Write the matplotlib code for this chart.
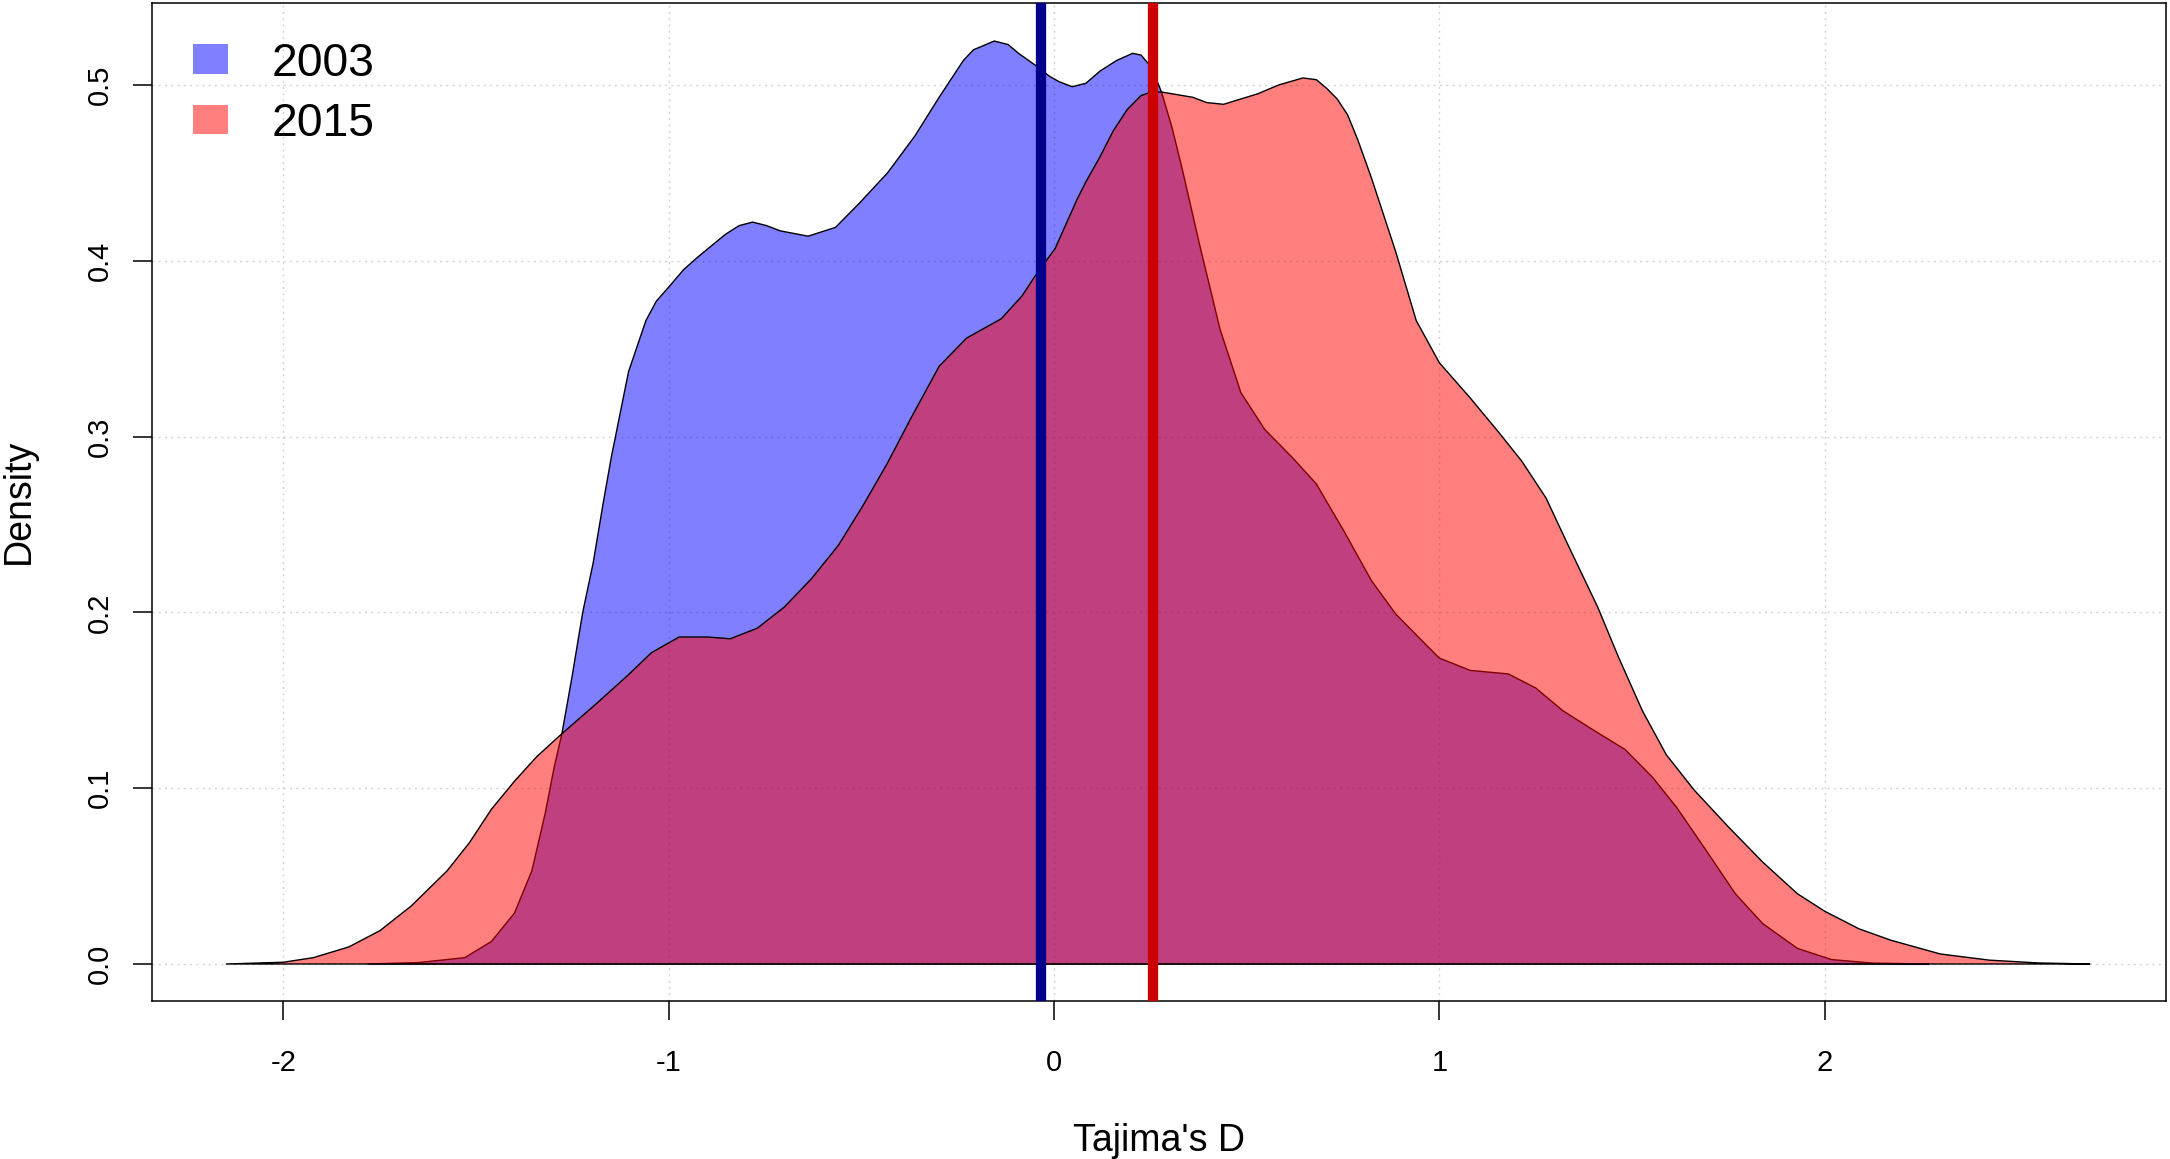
import matplotlib
matplotlib.use("Agg")
import matplotlib.pyplot as plt
from matplotlib.patches import Patch

plt.rcParams['font.family'] = ['Liberation Sans', 'DejaVu Sans']

# ---- data (density estimates of Tajima's D) ----
x_2003 = [-1.78, -1.65, -1.529, -1.46, -1.40, -1.355, -1.32, -1.297, -1.277, -1.251,
          -1.223, -1.196, -1.17, -1.149, -1.104, -1.059, -1.032, -1.0, -0.961, -0.925,
          -0.853, -0.817, -0.782, -0.746, -0.710, -0.638, -0.567, -0.504, -0.432, -0.361,
          -0.298, -0.235, -0.209, -0.155, -0.119, -0.092, -0.047, -0.012, 0.012, 0.047,
          0.083, 0.12, 0.163, 0.204, 0.226, 0.253, 0.279, 0.306, 0.333, 0.378,
          0.431, 0.485, 0.547, 0.619, 0.681, 0.753, 0.824, 0.887, 0.95, 1.0,
          1.08, 1.179, 1.25, 1.321, 1.393, 1.482, 1.554, 1.616, 1.688, 1.768,
          1.839, 1.929, 2.018, 2.125, 2.27]
y_2003 = [0.0, 0.0008, 0.0036, 0.0128, 0.029, 0.053, 0.086, 0.112, 0.131, 0.163,
          0.200, 0.228, 0.262, 0.288, 0.337, 0.366, 0.377, 0.385, 0.395, 0.402,
          0.415, 0.420, 0.422, 0.420, 0.417, 0.414, 0.419, 0.433, 0.450, 0.471,
          0.493, 0.514, 0.520, 0.525, 0.523, 0.518, 0.511, 0.505, 0.502, 0.499,
          0.501, 0.508, 0.514, 0.518, 0.517, 0.510, 0.496, 0.476, 0.452, 0.409,
          0.361, 0.325, 0.304, 0.288, 0.273, 0.246, 0.218, 0.199, 0.185, 0.174,
          0.167, 0.165, 0.157, 0.144, 0.134, 0.122, 0.106, 0.089, 0.066, 0.040,
          0.023, 0.0089, 0.0025, 0.0005, 0.0]

x_2015 = [-2.148, -2.0, -1.922, -1.83, -1.749, -1.668, -1.575, -1.517, -1.46, -1.40,
          -1.342, -1.277, -1.188, -1.107, -1.045, -0.973, -0.90, -0.84, -0.77, -0.70,
          -0.63, -0.56, -0.495, -0.432, -0.370, -0.298, -0.227, -0.137, -0.083, -0.047,
          0.003, 0.060, 0.083, 0.119, 0.154, 0.19, 0.226, 0.253, 0.279, 0.360,
          0.396, 0.440, 0.529, 0.583, 0.646, 0.681, 0.708, 0.735, 0.762, 0.788,
          0.824, 0.887, 0.940, 1.0, 1.08, 1.152, 1.214, 1.277, 1.339, 1.411,
          1.464, 1.527, 1.589, 1.661, 1.75, 1.839, 1.929, 2.0, 2.089, 2.172,
          2.3, 2.427, 2.554, 2.688]
y_2015 = [0.0, 0.001, 0.0036, 0.0097, 0.019, 0.033, 0.053, 0.069, 0.088, 0.104,
          0.118, 0.131, 0.148, 0.164, 0.177, 0.186, 0.186, 0.185, 0.191, 0.203,
          0.219, 0.238, 0.261, 0.285, 0.311, 0.340, 0.356, 0.367, 0.380, 0.392,
          0.407, 0.435, 0.445, 0.459, 0.474, 0.486, 0.494, 0.496, 0.496, 0.493,
          0.490, 0.489, 0.495, 0.500, 0.504, 0.503, 0.498, 0.492, 0.483, 0.469,
          0.447, 0.405, 0.366, 0.342, 0.322, 0.303, 0.286, 0.265, 0.236, 0.203,
          0.175, 0.144, 0.119, 0.099, 0.078, 0.058, 0.040, 0.030, 0.020, 0.0135,
          0.0057, 0.0022, 0.0006, 0.0]

mean_2003 = -0.035
mean_2015 = 0.256

series_labels = ["2003", "2015"]
x_ticks = [-2, -1, 0, 1, 2]
y_ticks = [0.0, 0.1, 0.2, 0.3, 0.4, 0.5]
y_tick_labels = ["0.0", "0.1", "0.2", "0.3", "0.4", "0.5"]

fill_2003 = (0, 0, 1, 0.5)
fill_2015 = (1, 0, 0, 0.5)
line_2003 = "#00008B"
line_2015 = "#CD0000"

# ---- figure ----
W, H = 2170, 1159
fig = plt.figure(figsize=(W / 100, H / 100), dpi=100)
ax_l, ax_r, ax_t, ax_b = 151.7, 2166.0, 2.7, 1001.0
ax = fig.add_axes([ax_l / W, 1 - ax_b / H, (ax_r - ax_l) / W, (ax_b - ax_t) / H])

ax.set_xlim(-2.3415, 2.8857)
ax.set_ylim(-0.02105, 0.5468)

ax.set_axisbelow(True)
ax.grid(True, color="#D3D3D3", linestyle=(0, (1.5, 3)), linewidth=1.0, zorder=0)

ax.fill(x_2003, y_2003, facecolor=fill_2003, edgecolor="black", linewidth=1.0,
        joinstyle="round", zorder=2)
ax.fill(x_2015, y_2015, facecolor=fill_2015, edgecolor="black", linewidth=1.0,
        joinstyle="round", zorder=3)

ax.axvline(mean_2003, color=line_2003, linewidth=7.4, zorder=4)
ax.axvline(mean_2015, color=line_2015, linewidth=7.4, zorder=5)

ax.set_xticks(x_ticks)
ax.set_xticklabels([str(t) for t in x_ticks])
ax.set_yticks(y_ticks)
ax.set_yticklabels(y_tick_labels, rotation=90, va="center")

ax.tick_params(axis="both", direction="out", length=14, width=1.1, labelsize=21, color="black")
ax.tick_params(axis="x", pad=20.5)
ax.tick_params(axis="y", pad=13.4)

for s in ax.spines.values():
    s.set_linewidth(1.1)
    s.set_color("black")

ax.set_xlabel("Tajima's D", fontsize=27)
ax.xaxis.label.set_va("baseline")
ax.xaxis.set_label_coords(0.5, (ax_b - 1151) / (ax_b - ax_t))

ax.set_ylabel("Density", fontsize=27)
ax.yaxis.label.set_va("baseline")
ax.yaxis.set_label_coords((29 - ax_l) / (ax_r - ax_l), 0.5)

handles = [Patch(facecolor=fill_2003, edgecolor="none"),
           Patch(facecolor=fill_2015, edgecolor="none")]
leg = ax.legend(handles, series_labels, loc="upper left",
                bbox_to_anchor=((193.3 - ax_l) / (ax_r - ax_l), 1 - (41.5 - ax_t) / (ax_b - ax_t)),
                frameon=False, fontsize=33.3, borderpad=0, borderaxespad=0,
                handlelength=0.74, handleheight=0.61, handletextpad=0.95,
                labelspacing=0.35)

fig.savefig("out.png", dpi=100)
